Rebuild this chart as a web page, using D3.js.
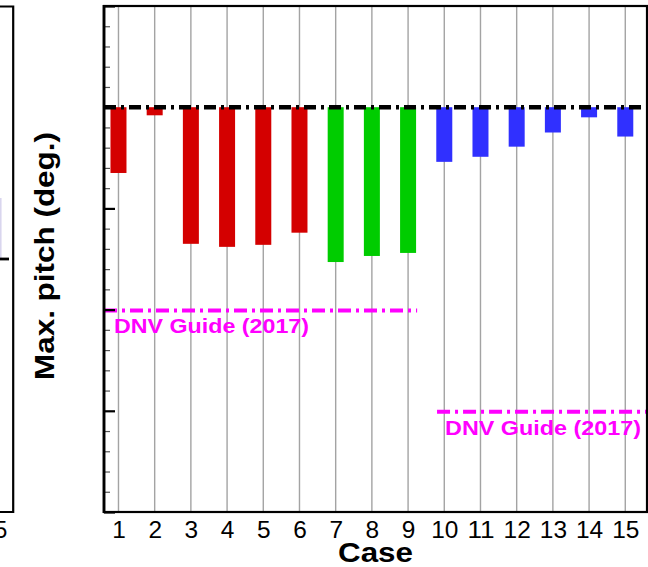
<!DOCTYPE html>
<html>
<head>
<meta charset="utf-8">
<script src="https://cdn.jsdelivr.net/npm/d3@7"></script>
<style>
  html, body { margin: 0; padding: 0; background: #fff; }
  svg { display: block; font-family: "Liberation Sans", Arial, Helvetica, sans-serif; }
</style>
</head>
<body>
<svg id="chart" width="648" height="567"></svg>
<script>
// ---- data ----
const cases = [1, 2, 3, 4, 5, 6, 7, 8, 9, 10, 11, 12, 13, 14, 15];
const caseLabels = ["1", "2", "3", "4", "5", "6", "7", "8", "9", "10", "11", "12", "13", "14", "15"];
const maxPitch = [-0.65, -0.08, -1.35, -1.38, -1.36, -1.24, -1.53, -1.47, -1.44, -0.54, -0.49, -0.39, -0.25, -0.10, -0.29];
const caseGroup = ["red", "red", "red", "red", "red", "red", "green", "green", "green", "blue", "blue", "blue", "blue", "blue", "blue"];
const groupColors = { red: "#d40000", green: "#00cc00", blue: "#3030ff" };
const dnvFrom = [0.6, 9.8];
const dnvTo = [9.25, 15.6];
const dnvValue = [-2, -3];
const dnvLabel = ["DNV Guide (2017)", "DNV Guide (2017)"];
const yMajorTicks = [1, 0, -1, -2, -3, -4];
const yMinorTicks = [0.8, 0.6, 0.4, 0.2, -0.2, -0.4, -0.6, -0.8, -1.2, -1.4, -1.6, -1.8,
                     -2.2, -2.4, -2.6, -2.8, -3.2, -3.4, -3.6, -3.8];
const xTitle = "Case";
const yTitle = "Max. pitch (deg.)";

// ---- layout ----
const svg = d3.select("#chart");
const L = 104, R = 647, T = 6, B = 512;
const x = d3.scaleLinear().domain([0.6, 15.6]).range([L, R]);
const y = d3.scaleLinear().domain([1, -4]).range([T, B]);

// left neighbouring panel fragment
const frag = svg.append("g");
frag.append("line").attr("x1", 0.8).attr("x2", 0.8).attr("y1", 198).attr("y2", 259)
  .attr("stroke", "#d8d4ee").attr("stroke-width", 1.5);
frag.append("path").attr("d", `M0,${T + 0.5}H13.2V${B}H0`)
  .attr("fill", "none").attr("stroke", "#000").attr("stroke-width", 2.2);
frag.append("line").attr("x1", 0).attr("x2", 9).attr("y1", 259).attr("y2", 259)
  .attr("stroke", "#000").attr("stroke-width", 2.8);
frag.append("text").attr("x", 1).attr("y", 537.5).attr("text-anchor", "middle")
  .attr("font-size", 23).text("5");

// grid lines
svg.append("g").selectAll("line").data(cases).join("line")
  .attr("x1", d => x(d)).attr("x2", d => x(d))
  .attr("y1", T).attr("y2", B)
  .attr("stroke", "#a3a3a3").attr("stroke-width", 1.4);

// bars
const halfW = 0.221;
svg.append("g").selectAll("rect").data(cases).join("rect")
  .attr("x", (d, i) => x(d - halfW))
  .attr("width", (d, i) => x(d + halfW) - x(d - halfW))
  .attr("y", (d, i) => y(Math.max(0, maxPitch[i])))
  .attr("height", (d, i) => Math.abs(y(maxPitch[i]) - y(0)))
  .attr("fill", (d, i) => groupColors[caseGroup[i]]);

// DNV guide lines
const dnv = svg.append("g");
dnvValue.forEach((v, i) => {
  dnv.append("line")
    .attr("x1", x(dnvFrom[i])).attr("x2", x(dnvTo[i]))
    .attr("y1", y(v) + 1).attr("y2", y(v) + 1)
    .attr("stroke", "#ff00ff").attr("stroke-width", 4)
    .attr("stroke-dasharray", "13,5,3,5");
});
dnv.append("text").attr("x", x(dnvFrom[0]) + 10).attr("y", y(dnvValue[0]) + 23)
  .attr("font-size", 21).attr("font-weight", "bold").attr("fill", "#ff00ff")
  .attr("textLength", 195).attr("lengthAdjust", "spacingAndGlyphs").text(dnvLabel[0]);
dnv.append("text").attr("x", x(dnvFrom[1]) + 8).attr("y", y(dnvValue[1]) + 24.5)
  .attr("font-size", 21).attr("font-weight", "bold").attr("fill", "#ff00ff")
  .attr("textLength", 196).attr("lengthAdjust", "spacingAndGlyphs").text(dnvLabel[1]);

// zero line
svg.append("line")
  .attr("x1", L).attr("x2", R).attr("y1", y(0)).attr("y2", y(0))
  .attr("stroke", "#000").attr("stroke-width", 4.5)
  .attr("stroke-dasharray", "12,5,3,5");

// y axis ticks (inward)
const yMajor = d3.axisRight(y).tickValues(yMajorTicks).tickSize(11).tickFormat("");
const yMinor = d3.axisRight(y).tickValues(yMinorTicks).tickSize(6).tickFormat("");
const gMin = svg.append("g").attr("transform", `translate(${L},0)`).call(yMinor);
gMin.select(".domain").remove();
gMin.selectAll(".tick line").attr("stroke", "#555").attr("stroke-width", 1.2);
const gMaj = svg.append("g").attr("transform", `translate(${L},0)`).call(yMajor);
gMaj.select(".domain").remove();
gMaj.selectAll(".tick line").attr("stroke", "#000").attr("stroke-width", 2.2);

// frame
svg.append("rect").attr("x", L).attr("y", T).attr("width", R - L).attr("height", B - T)
  .attr("fill", "none").attr("stroke", "#000").attr("stroke-width", 2.2);
svg.append("line").attr("x1", L).attr("x2", L).attr("y1", T - 1).attr("y2", B + 1)
  .attr("stroke", "#000").attr("stroke-width", 2.8);

// x axis labels
const xAxis = d3.axisBottom(x).tickValues(cases).tickSize(0)
  .tickFormat((d, i) => caseLabels[i]);
const gx = svg.append("g").attr("transform", `translate(0,${B})`).call(xAxis)
  .attr("font-size", 23).attr("font-family", "'Liberation Sans', Arial, sans-serif");
gx.select(".domain").remove();
gx.selectAll(".tick text").attr("font-size", 23).attr("fill", "#000")
  .attr("dy", null).attr("y", 25.5)
  .attr("textLength", (d, i) => caseLabels[i].length * 13.6)
  .attr("lengthAdjust", "spacingAndGlyphs");

// titles
svg.append("text").attr("x", (L + R) / 2).attr("y", 561.5).attr("text-anchor", "middle")
  .attr("font-size", 28).attr("font-weight", "bold")
  .attr("textLength", 75).attr("lengthAdjust", "spacingAndGlyphs").text(xTitle);
svg.append("text").attr("transform", "translate(54,256) rotate(-90)")
  .attr("text-anchor", "middle")
  .attr("font-size", 28).attr("font-weight", "bold")
  .attr("textLength", 248).attr("lengthAdjust", "spacingAndGlyphs").text(yTitle);
</script>
</body>
</html>
